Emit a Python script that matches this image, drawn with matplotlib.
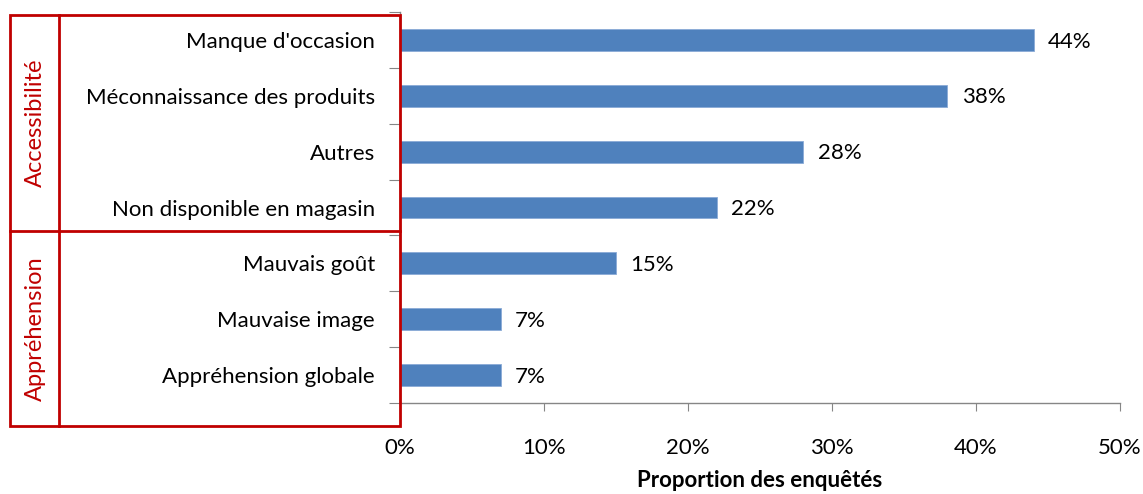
import matplotlib.pyplot as plt
from matplotlib.patches import Rectangle
from matplotlib.lines import Line2D

# Motifs de non-consommation, du haut vers le bas
motifs = ["Manque d'occasion", "Méconnaissance des produits", "Autres",
          "Non disponible en magasin", "Mauvais goût", "Mauvaise image",
          "Appréhension globale"]
proportions = [44, 38, 28, 22, 15, 7, 7]
groupes = ["Accessibilité", "Appréhension"]
taille_groupes = [4, 3]
ticks_x = [0, 10, 20, 30, 40, 50]

plt.rcParams['font.family'] = ['Lato', 'DejaVu Sans']
rouge = '#C00000'
gris = '#868686'
fs = 16

W, H = 1143, 494
fig = plt.figure(figsize=(W / 100, H / 100), dpi=100)
ax = fig.add_axes([400 / W, 1 - 403 / H, 720 / W, 391 / H])

y = list(range(len(motifs)))
ax.barh(y, proportions, height=0.39, color='#4F81BD', edgecolor='#8AAAD6', linewidth=0.6)
for yi, v in zip(y, proportions):
    ax.text(v + 1.0, yi + 0.03, f"{v}%", va='center', ha='left', fontsize=fs, color='black')

ax.set_xlim(0, 50)
ax.set_ylim(len(motifs) - 0.5, -0.5)
ax.set_xticks(ticks_x)
ax.set_xticklabels([f"{t}%" for t in ticks_x], fontsize=fs)
ax.tick_params(axis='x', length=6, color=gris, pad=19)

# graduations de l'axe y entre les catégories, libellés en mineur
ax.set_yticks([i - 0.5 for i in range(len(motifs) + 1)])
ax.set_yticklabels([])
ax.tick_params(axis='y', which='major', length=8, color=gris, direction='out')
ax.set_yticks(y, minor=True)
ax.set_yticklabels(motifs, minor=True, fontsize=fs)
ax.tick_params(axis='y', which='minor', length=0, pad=18)

for s in ['top', 'right']:
    ax.spines[s].set_visible(False)
for s in ['left', 'bottom']:
    ax.spines[s].set_color(gris)
    ax.spines[s].set_linewidth(1.0)

ax.set_xlabel("Proportion des enquêtés", fontsize=fs, fontweight='bold', labelpad=9)

# cadres rouges des groupes
def px(x, yy):
    return x / W, 1 - yy / H

x0, x1, xs = 10, 400, 59
top, bot = 15, 426
sep = 231
tr = fig.transFigure
fig.add_artist(Rectangle(px(x0, bot), (x1 - x0) / W, (bot - top) / H, transform=tr,
                         fill=False, edgecolor=rouge, linewidth=2))
fig.add_artist(Line2D([xs / W, xs / W], [1 - top / H, 1 - bot / H], transform=tr,
                      color=rouge, linewidth=2))
fig.add_artist(Line2D([x0 / W, x1 / W], [1 - sep / H, 1 - sep / H], transform=tr,
                      color=rouge, linewidth=2))

bornes = [top, sep, bot]
for i, g in enumerate(groupes):
    yc = (bornes[i] + bornes[i + 1]) / 2
    fig.text(35 / W, 1 - yc / H, g, rotation=90, ha='center', va='center',
             color=rouge, fontsize=17)

fig.savefig('out.png', dpi=100)
